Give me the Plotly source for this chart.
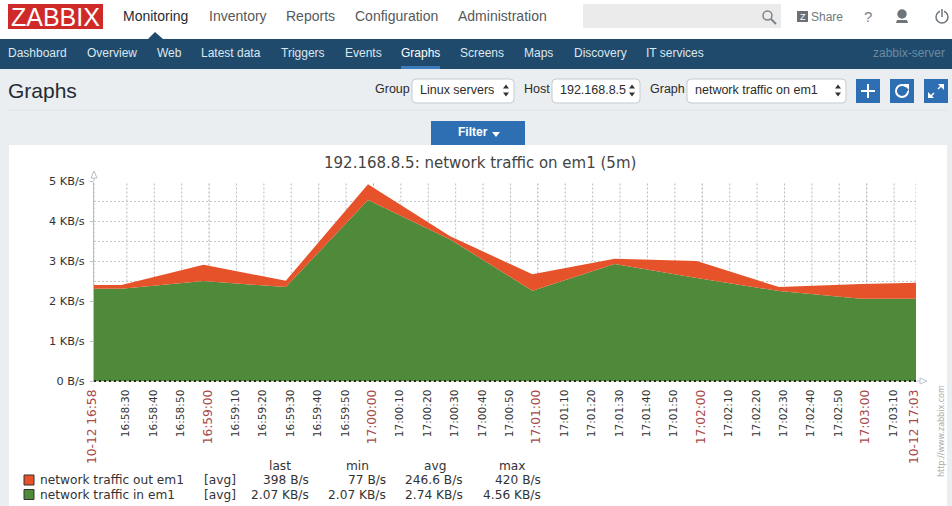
import plotly.graph_objects as go

W = 952
H = 506

times = [
    "2016-10-12 16:58:18", "2016-10-12 16:58:28", "2016-10-12 16:58:58", "2016-10-12 16:59:28",
    "2016-10-12 16:59:58", "2016-10-12 17:00:28", "2016-10-12 17:00:58", "2016-10-12 17:01:28",
    "2016-10-12 17:01:58", "2016-10-12 17:02:28", "2016-10-12 17:02:58", "2016-10-12 17:03:18",
]
traffic_in = [2.32, 2.32, 2.51, 2.36, 4.54, 3.55, 2.27, 2.94, 2.59, 2.26, 2.07, 2.07]
traffic_out = [0.09, 0.09, 0.41, 0.16, 0.39, 0.08, 0.41, 0.13, 0.42, 0.10, 0.37, 0.40]

y_ticks = [0, 1, 2, 3, 4, 5]
y_labels = ["0 B/s", "1 KB/s", "2 KB/s", "3 KB/s", "4 KB/s", "5 KB/s"]
y_grid = [0.5, 1, 1.5, 2, 2.5, 3, 3.5, 4, 4.5]

x_ticks = ["2016-10-12 16:58:18"]
x_labels = ["10-12 16:58"]
for m, secs in [("16:58", [30, 40, 50]), ("16:59", [0, 10, 20, 30, 40, 50]), ("17:00", [0, 10, 20, 30, 40, 50]),
                ("17:01", [0, 10, 20, 30, 40, 50]), ("17:02", [0, 10, 20, 30, 40, 50]), ("17:03", [0, 10])]:
    for s in secs:
        x_ticks.append(f"2016-10-12 {m}:{s:02d}")
        x_labels.append(f"{m}:{s:02d}")
x_ticks.append("2016-10-12 17:03:18")
x_labels.append("10-12 17:03")

legend_names = ["network traffic out em1", "network traffic in em1"]
legend_last = ["398 B/s", "2.07 KB/s"]
legend_min = ["77 B/s", "2.07 KB/s"]
legend_avg = ["246.6 B/s", "2.74 KB/s"]
legend_max = ["420 B/s", "4.56 KB/s"]

top_menu = ["Monitoring", "Inventory", "Reports", "Configuration", "Administration"]
sub_menu = ["Dashboard", "Overview", "Web", "Latest data", "Triggers", "Events", "Graphs", "Screens", "Maps",
            "Discovery", "IT services"]

RED = "#E6532B"
GREEN = "#4F8A3A"
NAVY = "#1F4A6C"
BLUE = "#2E6FB4"
UI = "Liberation Sans"
GRAPH = "DejaVu Sans"


def px(x):
    return x / W


def py(y):
    return 1 - y / H


shapes = []
annotations = []


def rect(x0, y0, x1, y1, fill, line=None):
    shapes.append(dict(type="rect", xref="paper", yref="paper", x0=px(x0), x1=px(x1), y0=py(y0), y1=py(y1),
                       fillcolor=fill, line=dict(color=line or fill, width=1 if line else 0), layer="below"))


def seg(x0, y0, x1, y1, color, width=1, dash="solid", layer="above"):
    shapes.append(dict(type="line", xref="paper", yref="paper", x0=px(x0), x1=px(x1), y0=py(y0), y1=py(y1),
                       line=dict(color=color, width=width, dash=dash), layer=layer))


def poly(points, fill, line=None):
    d = "M" + " L".join(f"{px(a):.5f},{py(b):.5f}" for a, b in points) + " Z"
    shapes.append(dict(type="path", xref="paper", yref="paper", path=d, fillcolor=fill,
                       line=dict(color=line or fill, width=1 if line else 0), layer="above"))


def circle(x0, y0, x1, y1, fill=None, line=None, width=1.5):
    shapes.append(dict(type="circle", xref="paper", yref="paper", x0=px(x0), x1=px(x1), y0=py(y0), y1=py(y1),
                       fillcolor=fill or "rgba(0,0,0,0)", line=dict(color=line or fill, width=width), layer="above"))


def text(x, y, s, size=12, color="#333333", anchor="left", family=UI, angle=0):
    # annotations pad their text by about 2px
    if anchor == "left":
        x -= 2
    elif anchor == "right":
        x += 2
    annotations.append(dict(xref="paper", yref="paper", x=px(x), y=py(y), text=s, showarrow=False, xanchor=anchor,
                            yanchor="middle", textangle=angle, align=anchor,
                            font=dict(family=family, size=size, color=color)))


def select_box(x0, x1, label):
    r = 4
    y0, y1 = 79, 103
    d = (f"M{px(x0 + r)},{py(y0)} L{px(x1 - r)},{py(y0)} Q{px(x1)},{py(y0)} {px(x1)},{py(y0 + r)} "
         f"L{px(x1)},{py(y1 - r)} Q{px(x1)},{py(y1)} {px(x1 - r)},{py(y1)} L{px(x0 + r)},{py(y1)} "
         f"Q{px(x0)},{py(y1)} {px(x0)},{py(y1 - r)} L{px(x0)},{py(y0 + r)} Q{px(x0)},{py(y0)} {px(x0 + r)},{py(y0)} Z")
    shapes.append(dict(type="path", xref="paper", yref="paper", path=d, fillcolor="white",
                       line=dict(color="#C4CBD0", width=1), layer="below"))
    text(x0 + 8, 90.5, label, 12.5, "#2B2B2B")
    poly([(x1 - 11, 88.5), (x1 - 5, 88.5), (x1 - 8, 84.5)], "#333333")
    poly([(x1 - 11, 92.5), (x1 - 5, 92.5), (x1 - 8, 96.5)], "#333333")


# page furniture
rect(0, 0, W, 39, "white")
rect(0, 39, W, 69, NAVY)
rect(9, 145, 947, H, "white")
seg(8, 110, 947, 110, "#DDE2E5", layer="below")

rect(8, 4, 103, 29, "#CF2A27")
text(55.5, 17, "ZABBIX", 25, "white", "center")
for label, x in zip(top_menu, [123, 209, 286, 355, 458]):
    text(x, 16, label, 14, "#1F2C33" if label == "Monitoring" else "#55595C")
poly([(148, 39), (155, 32), (163, 39)], NAVY)
rect(583, 4, 781, 28, "#EBEBEB")
circle(763, 11, 772, 20, line="#7C8489")
seg(771, 19, 776, 24, "#7C8489", 2)
rect(797, 11, 808, 22, "#6A7075")
text(802.5, 16.5, "Z", 9, "white", "center")
text(811, 16.5, "Share", 12, "#73787C")
text(868, 16.5, "?", 15, "#7C8287", "center")
circle(898, 10, 906, 18, fill="#6E757A")
poly([(896, 23), (897, 20), (907, 20), (908, 23)], "#6E757A")
circle(936, 11, 948, 23, line="#6E757A")
seg(942, 8, 942, 17, "white", 4)
seg(942, 9, 942, 17, "#6E757A", 1.5)

for label, x in zip(sub_menu, [8, 87, 157, 201, 281, 345, 401, 460, 524, 574, 646]):
    text(x, 53.5, label, 12, "white" if label == "Graphs" else "#DCE7EF")
rect(401, 66, 440, 69, "#3D7DBD")
text(945, 53.5, "zabbix-server", 12, "#6C8AA0", "right")

text(8, 91, "Graphs", 21, "#1F2C33")
text(375, 89.5, "Group", 12.5, "#2B2B2B")
select_box(412, 514, "Linux servers")
text(524, 89.5, "Host", 12.5, "#2B2B2B")
select_box(552, 640, "192.168.8.5")
text(650, 89.5, "Graph", 12.5, "#2B2B2B")
select_box(687, 846, "network traffic on em1")

rect(856, 79, 880, 103, BLUE)
seg(868, 84, 868, 98, "white", 2)
seg(861, 91, 875, 91, "white", 2)
rect(890, 79, 914, 103, BLUE)
circle(896, 85, 908, 97, line="white", width=2)
seg(905, 91, 909, 86, BLUE, 4)
poly([(903, 84), (909, 84), (909, 90)], "white")
rect(924, 79, 948, 103, BLUE)
seg(938, 89, 942, 85, "white", 1.5)
seg(934, 93, 930, 97, "white", 1.5)
poly([(938, 84), (944, 84), (944, 90)], "white")
poly([(928, 92), (928, 98), (934, 98)], "white")

rect(431, 121, 525, 145, BLUE)
text(473, 132.5, "<b>Filter</b>", 12, "white", "center")
poly([(492, 132), (500, 132), (496, 137)], "white")

# grid, between the plot background and the areas
for t in x_ticks:
    color = "#A0A4A8" if t.endswith(":00") else "#B8BCC0"
    shapes.append(dict(type="line", xref="x", yref="y", x0=t, x1=t, y0=0, y1=5, layer="between",
                       line=dict(color=color, width=1, dash="2px,2px")))
for v in y_grid:
    shapes.append(dict(type="line", xref="x", yref="y", x0=times[0], x1=times[-1], y0=v, y1=v, layer="between",
                       line=dict(color="#C4C8CC", width=1, dash="2px,2px")))

# graph furniture
seg(94, 181, 94, 173, "#B8BEC2")
poly([(91, 178), (97, 178), (94, 171)], "white", "#B8BEC2")
seg(915, 381, 925, 381, "#B8C4D4")
poly([(920, 378), (920, 384), (927, 381)], "white", "#B8C4D4")
seg(94, 381, 916, 381, "#2A2A1E", 2, "2px,3px")

for s, x in zip(["last", "min", "avg", "max"], [280, 357, 435, 512]):
    text(x, 466, s, 12.2, "#333333", "center", GRAPH)
for i, (name, col) in enumerate(zip(legend_names, [RED, GREEN])):
    y = 480 + i * 14.5
    rect(24, y - 5, 34, y + 5, col, "#333333")
    text(40, y, name, 12.2, "#333333", "left", GRAPH)
    text(204, y, "[avg]", 12.2, "#333333", "left", GRAPH)
    text(309, y, legend_last[i], 12.2, "#333333", "right", GRAPH)
    text(386, y, legend_min[i], 12.2, "#333333", "right", GRAPH)
    text(463, y, legend_avg[i], 12.2, "#333333", "right", GRAPH)
    text(541, y, legend_max[i], 12.2, "#333333", "right", GRAPH)
text(941, 431, "http://www.zabbix.com", 8, "#AAAAAA", "center", GRAPH, -90)
text(480, 163, "192.168.8.5: network traffic on em1 (5m)", 15, "#444444", "center", GRAPH)

tick_text = []
for t, lab in zip(x_ticks, x_labels):
    if t.endswith(":00") or len(lab) > 8:
        tick_text.append(f'<span style="color:#A84A4A;font-size:12.2px">{lab}</span>')
    else:
        tick_text.append(lab)

fig = go.Figure()
fig.add_trace(go.Scatter(x=times, y=traffic_in, name=legend_names[1], mode="lines", stackgroup="traffic",
                         line=dict(width=0, color=GREEN), fillcolor=GREEN))
fig.add_trace(go.Scatter(x=times, y=traffic_out, name=legend_names[0], mode="lines", stackgroup="traffic",
                         line=dict(width=0, color=RED), fillcolor=RED))

fig.update_layout(
    width=W, height=H,
    margin=dict(l=0, r=0, t=0, b=0),
    paper_bgcolor="#EBEEF1",
    plot_bgcolor="rgba(0,0,0,0)",
    showlegend=False,
    hovermode=False,
    shapes=shapes,
    annotations=annotations,
    xaxis=dict(
        domain=[px(94), px(916)], type="date", range=[times[0], times[-1]],
        tickmode="array", tickvals=x_ticks, ticktext=tick_text, tickangle=-90,
        tickfont=dict(family=GRAPH, size=10.6, color="#333333"),
        showgrid=False, showline=False, ticks="", ticklabelstandoff=5, ticklabelshift=-1,
        automargin=False, zeroline=False,
    ),
    yaxis=dict(
        domain=[py(381.5), py(181.5)], range=[0, 5],
        tickmode="array", tickvals=y_ticks, ticktext=y_labels,
        tickfont=dict(family=GRAPH, size=11.3, color="#333333"),
        showgrid=False, zeroline=False, showline=True, linecolor="#B8BEC2", linewidth=1,
        ticks="outside", ticklen=3, tickcolor="#B8BEC2", ticklabelstandoff=3, automargin=False,
    ),
)

fig.write_html("out.html", post_script="document.body.style.margin='0';", config=dict(displayModeBar=False))
